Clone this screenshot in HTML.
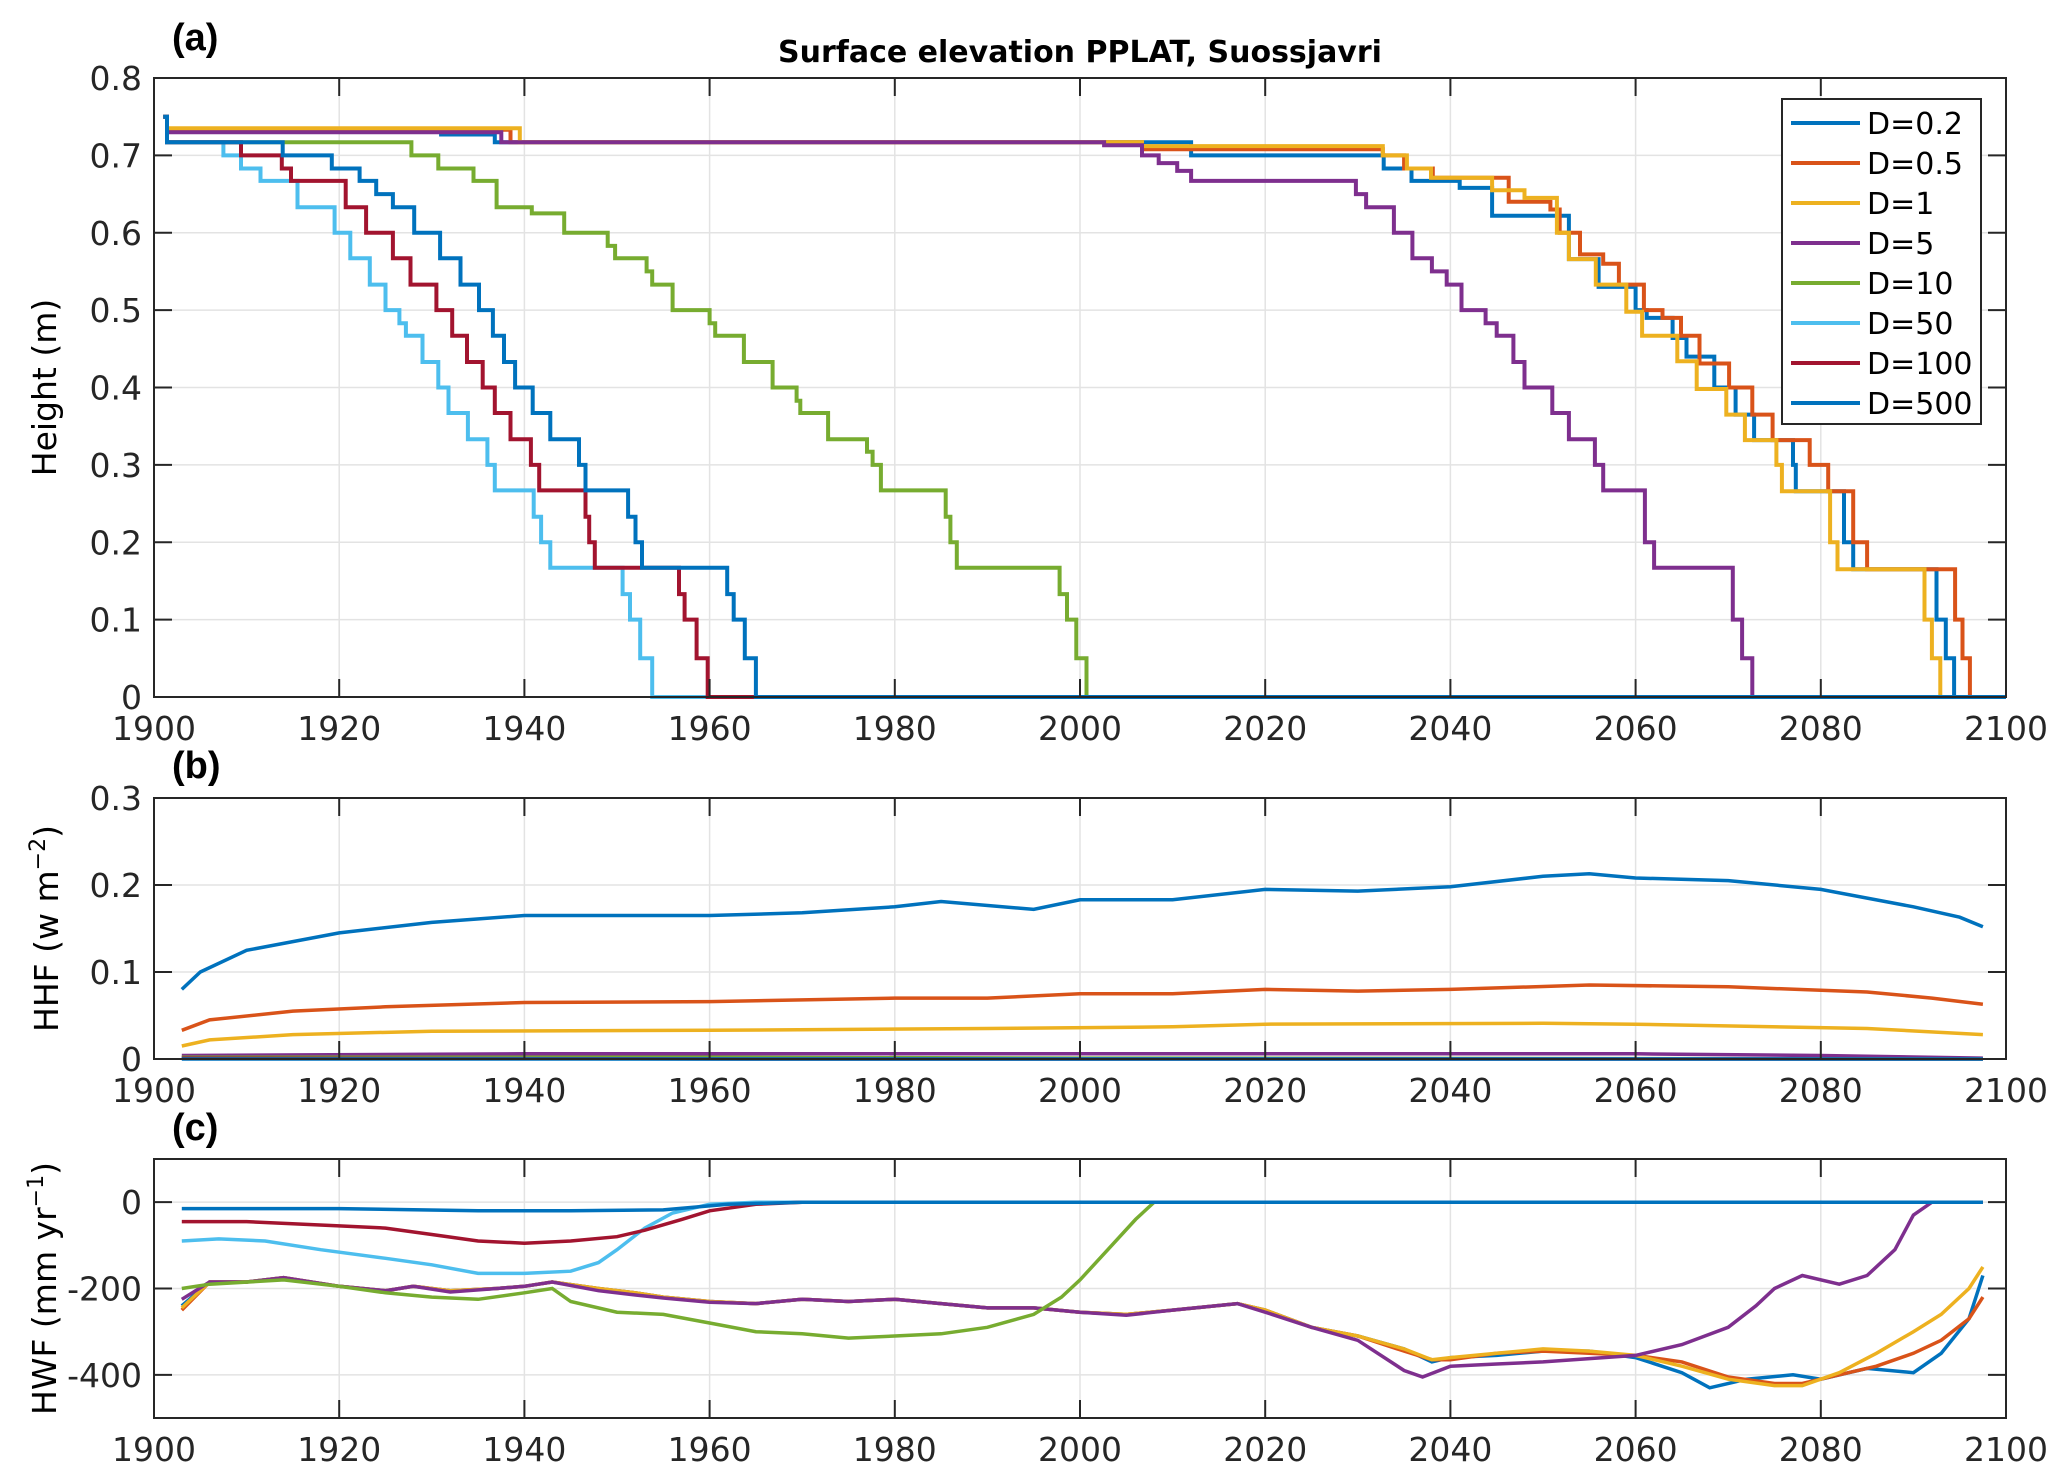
<!DOCTYPE html>
<html><head><meta charset="utf-8"><style>
html,body{margin:0;padding:0;background:#fff;}
svg{display:block;font-family:"DejaVu Sans","Liberation Sans",sans-serif;}
</style></head><body>
<svg id="fig" width="2067" height="1483" viewBox="0 0 2067 1483" xmlns="http://www.w3.org/2000/svg">
<rect width="2067" height="1483" fill="#fff"/>
<g id="root"></g>
</svg>
<script>
const seriesNames=["D=0.2","D=0.5","D=1","D=5","D=10","D=50","D=100","D=500"];
const colors=["#0072BD","#D95319","#EDB120","#7E2F8E","#77AC30","#4DBEEE","#A2142F","#0072BD"];
const xTicks=[1900,1920,1940,1960,1980,2000,2020,2040,2060,2080,2100];
const yTicksA=[0,0.1,0.2,0.3,0.4,0.5,0.6,0.7,0.8];
const yTickLabelsA=["0","0.1","0.2","0.3","0.4","0.5","0.6","0.7","0.8"];
const yTicksB=[0,0.1,0.2,0.3];
const yTickLabelsB=["0","0.1","0.2","0.3"];
const yTicksC=[-400,-200,0];
const yTickLabelsC=["-400","-200","0"];
// panel (a) step series: [year, height from that year on]
const a02=[[1901,0.75],[1901.4,0.733],[1931,0.727],[1936.8,0.717],[2012,0.7],[2032.8,0.683],[2035.8,0.667],[2041,0.658],[2044.5,0.622],[2052.8,0.566],[2056,0.53],[2060,0.5],[2061.2,0.49],[2064,0.464],[2065.5,0.44],[2068.5,0.4],[2070.8,0.365],[2072.8,0.332],[2077,0.3],[2077.3,0.266],[2082.5,0.2],[2083.5,0.165],[2092.5,0.1],[2093.5,0.05],[2094.4,0]];
const a05=[[1901,0.75],[1901.4,0.733],[1938.5,0.717],[2006.7,0.708],[2032.7,0.7],[2035,0.683],[2038.1,0.671],[2046.3,0.64],[2050.8,0.63],[2051.8,0.6],[2054,0.572],[2056.5,0.56],[2058.2,0.533],[2060.9,0.5],[2062.9,0.49],[2064.9,0.467],[2066.9,0.431],[2070.1,0.4],[2072.6,0.365],[2074.8,0.332],[2078.8,0.3],[2080.8,0.266],[2083.5,0.2],[2085,0.165],[2094.5,0.1],[2095.3,0.05],[2096.1,0]];
const a1=[[1901,0.75],[1901.4,0.735],[1939.5,0.717],[2006.7,0.712],[2032.7,0.7],[2035.3,0.683],[2037.9,0.671],[2044.5,0.655],[2048,0.645],[2051.5,0.6],[2052.8,0.566],[2055.7,0.533],[2059,0.498],[2060.7,0.467],[2064.5,0.434],[2066.6,0.398],[2069.8,0.365],[2071.8,0.332],[2075.2,0.3],[2075.8,0.266],[2081,0.2],[2081.8,0.165],[2091.2,0.1],[2092,0.05],[2092.9,0]];
const a5=[[1901,0.75],[1901.4,0.73],[1937.5,0.717],[2002.6,0.713],[2006.7,0.7],[2008.5,0.69],[2010.5,0.68],[2012,0.667],[2029.8,0.65],[2030.9,0.633],[2033.9,0.6],[2035.9,0.567],[2038,0.55],[2039.6,0.533],[2041.2,0.5],[2043.8,0.483],[2045,0.467],[2046.8,0.433],[2048,0.4],[2051,0.367],[2052.8,0.333],[2055.6,0.3],[2056.5,0.267],[2061,0.2],[2062,0.167],[2070.5,0.1],[2071.5,0.05],[2072.6,0]];
const a10=[[1901,0.75],[1901.4,0.717],[1927.8,0.7],[1930.7,0.683],[1934.5,0.667],[1937,0.633],[1940.8,0.625],[1944.3,0.6],[1949,0.583],[1949.8,0.567],[1953.2,0.55],[1953.8,0.533],[1956,0.5],[1960,0.483],[1960.6,0.467],[1963.7,0.433],[1966.8,0.4],[1969.4,0.383],[1969.8,0.367],[1972.8,0.333],[1977,0.317],[1977.6,0.3],[1978.5,0.267],[1985.5,0.233],[1986,0.2],[1986.7,0.167],[1997.8,0.133],[1998.6,0.1],[1999.6,0.05],[2000.7,0]];
const a50=[[1901,0.75],[1901.4,0.717],[1907.5,0.7],[1909.4,0.683],[1911.5,0.667],[1915.5,0.633],[1919.5,0.6],[1921.2,0.567],[1923.3,0.533],[1925,0.5],[1926.5,0.483],[1927.2,0.467],[1929,0.433],[1930.7,0.4],[1931.8,0.367],[1933.9,0.333],[1936,0.3],[1936.8,0.267],[1941,0.233],[1941.8,0.2],[1942.8,0.167],[1950.6,0.133],[1951.4,0.1],[1952.5,0.05],[1953.8,0]];
const a100=[[1901,0.75],[1901.4,0.717],[1909.4,0.7],[1913.8,0.683],[1914.8,0.667],[1920.7,0.633],[1922.9,0.6],[1925.8,0.567],[1927.7,0.533],[1930.5,0.5],[1932.2,0.467],[1933.8,0.433],[1935.5,0.4],[1936.8,0.367],[1938.5,0.333],[1940.7,0.3],[1941.6,0.267],[1946.6,0.233],[1947,0.2],[1947.6,0.167],[1956.7,0.133],[1957.3,0.1],[1958.6,0.05],[1959.8,0]];
const a500=[[1901,0.75],[1901.4,0.717],[1913.9,0.7],[1919.2,0.683],[1922.2,0.667],[1924,0.65],[1925.8,0.633],[1928.1,0.6],[1930.9,0.567],[1933.1,0.533],[1935.1,0.5],[1936.6,0.467],[1937.8,0.433],[1939,0.4],[1940.9,0.367],[1942.8,0.333],[1945.9,0.3],[1946.6,0.267],[1951.2,0.233],[1952,0.2],[1952.7,0.167],[1961.9,0.133],[1962.6,0.1],[1963.8,0.05],[1965,0]];
// panel (b) HHF
const b02=[[1903,0.08],[1905,0.1],[1910,0.125],[1920,0.145],[1930,0.157],[1940,0.165],[1960,0.165],[1970,0.168],[1980,0.175],[1985,0.181],[1995,0.172],[2000,0.183],[2010,0.183],[2020,0.195],[2030,0.193],[2040,0.198],[2050,0.21],[2055,0.213],[2060,0.208],[2070,0.205],[2080,0.195],[2090,0.175],[2095,0.163],[2097.5,0.152]];
const b05=[[1903,0.033],[1906,0.045],[1915,0.055],[1925,0.06],[1940,0.065],[1960,0.066],[1980,0.07],[1990,0.07],[2000,0.075],[2010,0.075],[2020,0.08],[2030,0.078],[2040,0.08],[2055,0.085],[2070,0.083],[2085,0.077],[2092,0.07],[2097.5,0.063]];
const b1=[[1903,0.015],[1906,0.022],[1915,0.028],[1930,0.032],[1960,0.033],[1990,0.035],[2010,0.037],[2020,0.04],[2050,0.041],[2060,0.04],[2085,0.035],[2097.5,0.028]];
const b5=[[1903,0.004],[1940,0.006],[2000,0.006],[2060,0.006],[2080,0.004],[2097.5,0.001]];
const b10=[[1903,0.002],[1960,0.002],[2000,0.001],[2097.5,0.0]];
const b50=[[1903,0.001],[1960,0.0],[2097.5,0.0]];
const b100=[[1903,0.001],[1965,0.0],[2097.5,0.0]];
const b500=[[1903,0.0],[2097.5,0.0]];
// panel (c) HWF
const c02=[[1903,-240],[1906,-185],[1910,-185],[1914,-175],[1920,-195],[1925,-205],[1928,-195],[1932,-205],[1937,-200],[1940,-195],[1943,-185],[1948,-200],[1952,-210],[1955,-220],[1960,-230],[1965,-235],[1970,-225],[1975,-230],[1980,-225],[1985,-235],[1990,-245],[1995,-245],[2000,-255],[2005,-260],[2010,-250],[2017,-235],[2020,-250],[2025,-290],[2030,-310],[2035,-340],[2038,-370],[2040,-360],[2045,-355],[2050,-345],[2055,-345],[2060,-360],[2065,-395],[2068,-430],[2072,-410],[2077,-400],[2080,-410],[2085,-385],[2090,-395],[2093,-350],[2096,-270],[2097.5,-170]];
const c05=[[1903,-250],[1906,-185],[1910,-185],[1914,-175],[1920,-195],[1925,-205],[1928,-195],[1932,-205],[1937,-200],[1940,-195],[1943,-185],[1948,-200],[1952,-210],[1955,-220],[1960,-230],[1965,-235],[1970,-225],[1975,-230],[1980,-225],[1985,-235],[1990,-245],[1995,-245],[2000,-255],[2005,-260],[2010,-250],[2017,-235],[2020,-250],[2025,-290],[2030,-310],[2035,-345],[2038,-365],[2040,-365],[2045,-350],[2050,-345],[2055,-350],[2060,-355],[2065,-370],[2070,-405],[2075,-420],[2078,-420],[2082,-400],[2086,-380],[2090,-350],[2093,-320],[2096,-270],[2097.5,-220]];
const c1=[[1903,-245],[1906,-185],[1910,-185],[1914,-175],[1920,-195],[1925,-205],[1928,-195],[1932,-205],[1937,-200],[1940,-195],[1943,-185],[1948,-200],[1952,-210],[1955,-220],[1960,-230],[1965,-235],[1970,-225],[1975,-230],[1980,-225],[1985,-235],[1990,-245],[1995,-245],[2000,-255],[2005,-260],[2010,-250],[2017,-235],[2020,-250],[2025,-290],[2030,-310],[2035,-340],[2038,-365],[2040,-360],[2045,-350],[2050,-340],[2055,-345],[2060,-355],[2065,-380],[2070,-410],[2075,-425],[2078,-425],[2082,-395],[2086,-350],[2090,-300],[2093,-260],[2096,-200],[2097.5,-150]];
const c5=[[1903,-225],[1906,-185],[1910,-185],[1914,-175],[1920,-195],[1925,-205],[1928,-195],[1932,-208],[1937,-200],[1940,-195],[1943,-185],[1948,-205],[1952,-215],[1955,-222],[1960,-232],[1965,-235],[1970,-225],[1975,-230],[1980,-225],[1985,-235],[1990,-245],[1995,-245],[2000,-255],[2005,-262],[2010,-250],[2017,-235],[2020,-255],[2025,-290],[2030,-320],[2035,-390],[2037,-405],[2040,-380],[2045,-375],[2050,-370],[2060,-355],[2065,-330],[2070,-290],[2073,-240],[2075,-200],[2078,-170],[2082,-190],[2085,-170],[2088,-110],[2090,-30],[2092,0],[2097.5,0]];
const c10=[[1903,-200],[1906,-190],[1914,-180],[1920,-195],[1925,-210],[1930,-220],[1935,-225],[1940,-210],[1943,-200],[1945,-230],[1950,-255],[1955,-260],[1960,-280],[1965,-300],[1970,-305],[1975,-315],[1980,-310],[1985,-305],[1990,-290],[1995,-260],[1998,-220],[2000,-180],[2003,-110],[2006,-40],[2008,0],[2097.5,0]];
const c50=[[1903,-90],[1907,-85],[1912,-90],[1918,-110],[1925,-130],[1930,-145],[1935,-165],[1940,-165],[1945,-160],[1948,-140],[1950,-110],[1953,-60],[1956,-25],[1960,-5],[1965,0],[2097.5,0]];
const c100=[[1903,-45],[1910,-45],[1920,-55],[1925,-60],[1930,-75],[1935,-90],[1940,-95],[1945,-90],[1950,-80],[1953,-65],[1957,-40],[1960,-20],[1965,-5],[1970,0],[2097.5,0]];
const c500=[[1903,-15],[1920,-15],[1935,-20],[1945,-20],[1955,-18],[1962,-5],[1970,0],[2097.5,0]];

const NS="http://www.w3.org/2000/svg";
const root=document.getElementById('root');
function mk(tag,attrs,parent){const e=document.createElementNS(NS,tag);for(const k in attrs)e.setAttribute(k,attrs[k]);(parent||root).appendChild(e);return e;}
const X0=154,X1=2006;
function xs(v){return X0+(v-1900)/200*(X1-X0);}
const panels=[
 {id:'a',top:78,bot:697,ymin:0,ymax:0.8,ticks:yTicksA,labels:yTickLabelsA,data:[a02,a05,a1,a5,a10,a50,a100,a500],step:true,lw:4,tickY:740,label:'(a)',labY:50,ylabel:'Height (m)',ylx:56},
 {id:'b',top:798,bot:1059,ymin:0,ymax:0.3,ticks:yTicksB,labels:yTickLabelsB,data:[b02,b05,b1,b5,b10,b50,b100,b500],step:false,lw:3.5,tickY:1102,label:'(b)',labY:778,ylabel:'HHF (w m',sup:'−2',tail:')',ylx:58},
 {id:'c',top:1159,bot:1418,ymin:-500,ymax:100,ticks:yTicksC,labels:yTickLabelsC,data:[c02,c05,c1,c5,c10,c50,c100,c500],step:false,lw:3.5,tickY:1461,label:'(c)',labY:1140,ylabel:'HWF (mm yr',sup:'−1',tail:')',ylx:56}
];
panels.forEach(p=>{
 const g=mk('g',{});
 
 
 const ys=v=>p.bot-(v-p.ymin)/(p.ymax-p.ymin)*(p.bot-p.top);
 // grid
 xTicks.forEach(t=>{const l=mk('line',{x1:xs(t),x2:xs(t),y1:p.top,y2:p.bot,stroke:'#e3e3e3','stroke-width':1.5},g);});
 p.ticks.forEach(t=>{const l=mk('line',{x1:X0,x2:X1,y1:ys(t),y2:ys(t),stroke:'#e3e3e3','stroke-width':1.5},g);});
 // series
 p.data.forEach((d,i)=>{
  let s='';
  if(p.step){
   s='M'+xs(d[0][0]).toFixed(1)+','+ys(d[0][1]).toFixed(1);
   for(let k=1;k<d.length;k++){s+='H'+xs(d[k][0]).toFixed(1)+'V'+ys(d[k][1]).toFixed(1);}
   s+='H'+xs(2100).toFixed(1);
  }else{
   s=d.map((q,k)=>(k?'L':'M')+xs(q[0]).toFixed(1)+','+ys(q[1]).toFixed(1)).join('');
  }
  const pa=mk('path',{d:s,fill:'none',stroke:colors[i],'stroke-width':p.lw,'stroke-linejoin':'miter'},g);
  
  
 });
 // box
 const bx=mk('rect',{x:X0,y:p.top,width:X1-X0,height:p.bot-p.top,fill:'none',stroke:'#262626','stroke-width':2},g);
 
 
 // ticks
 xTicks.forEach(t=>{
  mk('line',{x1:xs(t),x2:xs(t),y1:p.bot,y2:p.bot-18,stroke:'#262626','stroke-width':2},g);
  mk('line',{x1:xs(t),x2:xs(t),y1:p.top,y2:p.top+18,stroke:'#262626','stroke-width':2},g);
  const tx=mk('text',{x:xs(t),y:p.tickY,'text-anchor':'middle','font-size':33,fill:'#262626'},g);
  tx.textContent=t;
  
  
 });
 p.ticks.forEach((t,k)=>{
  mk('line',{x1:X0,x2:X0+18,y1:ys(t),y2:ys(t),stroke:'#262626','stroke-width':2},g);
  mk('line',{x1:X1,x2:X1-18,y1:ys(t),y2:ys(t),stroke:'#262626','stroke-width':2},g);
  const tx=mk('text',{x:142,y:ys(t)+12,'text-anchor':'end','font-size':33,fill:'#262626'},g);
  tx.textContent=p.labels[k];
  
  
 });
 // panel label
 const pl=mk('text',{x:172,y:p.labY,'font-size':38,'font-weight':'bold','font-family':'Liberation Sans, sans-serif',fill:'#000'},g);
 pl.textContent=p.label;
 
 
 // ylabel
 const cy=(p.top+p.bot)/2;
 const yl=mk('text',{x:0,y:0,'text-anchor':'middle','font-size':33,fill:'#000',transform:'translate('+p.ylx+','+cy+') rotate(-90)'},g);
 
 
 if(p.sup){
  yl.appendChild(document.createTextNode(p.ylabel));
  const ts=mk('tspan',{'font-size':22,dy:-13},yl);ts.textContent=p.sup;
  const t2=mk('tspan',{dy:13},yl);t2.textContent=p.tail;
 }else yl.textContent=p.ylabel;
});
// title
const title=mk('text',{x:1080,y:62,'text-anchor':'middle','font-size':30,'font-weight':'bold',fill:'#000'});
title.textContent='Surface elevation PPLAT, Suossjavri';


// legend
const lg=mk('g',{});


mk('rect',{x:1782,y:99,width:199,height:325,fill:'#fff',stroke:'#262626','stroke-width':2},lg);
seriesNames.forEach((n,i)=>{
 const y=123+i*40;
 const e=mk('g',{},lg);
 
 
 mk('line',{x1:1791,x2:1860,y1:y,y2:y,stroke:colors[i],'stroke-width':4},e);
 const t=mk('text',{x:1867,y:y+11,'font-size':30,fill:'#000'},e);
 t.textContent=n;
});
</script>
</body></html>
